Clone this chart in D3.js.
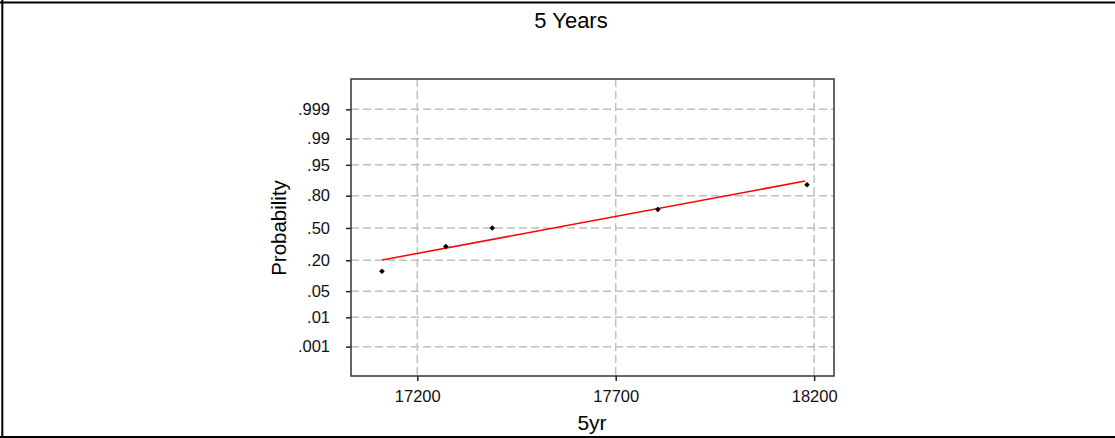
<!DOCTYPE html>
<html>
<head>
<meta charset="utf-8">
<title>5 Years</title>
<script src="https://d3js.org/d3.v7.min.js"></script>
<style>
  body { margin: 0; background: #fff; }
  svg { display: block; font-family: "Liberation Sans", Arial, sans-serif; }
</style>
</head>
<body>
<div class="chart"></div>
<script>
  // data
  const xValues = [17111, 17272, 17389, 17806, 18182];
  const pValues = [0.13, 0.315, 0.50, 0.685, 0.87];
  const fitX = [17111, 18177];
  const fitP = [0.202, 0.889];
  const xTicks = [17200, 17700, 18200];
  const pTicks = [0.999, 0.99, 0.95, 0.80, 0.50, 0.20, 0.05, 0.01, 0.001];
  const pTickLabels = ['.999', '.99', '.95', '.80', '.50', '.20', '.05', '.01', '.001'];

  // inverse normal cdf (Acklam)
  function probit(p) {
    const a = [-39.69683028665376, 220.9460984245205, -275.9285104469687, 138.3577518672690, -30.66479806614716, 2.506628277459239];
    const b = [-54.47609879822406, 161.5858368580409, -155.6989798598866, 66.80131188771972, -13.28068155288572];
    const c = [-0.007784894002430293, -0.3223964580411365, -2.400758277161838, -2.549732539343734, 4.374664141464968, 2.938163982698783];
    const d = [0.007784695709041462, 0.3224671290700398, 2.445134137142996, 3.754408661907416];
    const pl = 0.02425;
    let q, r;
    if (p < pl) {
      q = Math.sqrt(-2 * Math.log(p));
      return (((((c[0]*q+c[1])*q+c[2])*q+c[3])*q+c[4])*q+c[5]) / ((((d[0]*q+d[1])*q+d[2])*q+d[3])*q+1);
    }
    if (p > 1 - pl) {
      q = Math.sqrt(-2 * Math.log(1 - p));
      return -(((((c[0]*q+c[1])*q+c[2])*q+c[3])*q+c[4])*q+c[5]) / ((((d[0]*q+d[1])*q+d[2])*q+d[3])*q+1);
    }
    q = p - 0.5; r = q * q;
    return (((((a[0]*r+a[1])*r+a[2])*r+a[3])*r+a[4])*r+a[5])*q / (((((b[0]*r+b[1])*r+b[2])*r+b[3])*r+b[4])*r+1);
  }

  const W = 1115, H = 438;
  const pLeft = 351, pRight = 834, pTop = 79, pBottom = 376;

  const svg = d3.select('.chart')
    .append('svg')
    .attr('width', W)
    .attr('height', H);

  const x = d3.scaleLinear().domain([17033, 18250]).range([pLeft, pRight]);
  const y = d3.scaleLinear().domain([-3.855, 3.88]).range([pBottom, pTop]);

  // outer border (top, left, bottom)
  svg.append('path')
    .attr('d', 'M0,2.5H' + W + 'M2.3,0V437M0,437H' + W)
    .attr('stroke', '#000')
    .attr('stroke-width', 2)
    .attr('fill', 'none');

  // grid
  svg.selectAll('.vgrid')
    .data(xTicks)
    .enter()
    .append('line')
    .attr('x1', d => x(d)).attr('x2', d => x(d))
    .attr('y1', pTop).attr('y2', pBottom)
    .attr('stroke', '#c0c0c0')
    .attr('stroke-width', 1.5)
    .attr('stroke-dasharray', '8,4');

  svg.selectAll('.hgrid')
    .data(pTicks)
    .enter()
    .append('line')
    .attr('x1', pLeft).attr('x2', pRight)
    .attr('y1', d => y(probit(d))).attr('y2', d => y(probit(d)))
    .attr('stroke', '#c0c0c0')
    .attr('stroke-width', 1.5)
    .attr('stroke-dasharray', '8,4');

  // axes
  const xAxis = svg.append('g')
    .attr('transform', 'translate(0,' + pBottom + ')')
    .call(d3.axisBottom(x).tickValues(xTicks).tickSize(5).tickPadding(9).tickFormat(d3.format('d')));

  const yAxis = svg.append('g')
    .attr('transform', 'translate(' + pLeft + ',0)')
    .call(d3.axisLeft(y).tickValues(pTicks.map(probit)).tickSize(5).tickPadding(16)
      .tickFormat((d, i) => pTickLabels[i]));

  [xAxis, yAxis].forEach(function(g) {
    g.select('.domain').remove();
    g.selectAll('line').attr('stroke', '#222').attr('stroke-width', 1.5);
    g.selectAll('text').attr('fill', '#111').style('font-size', '16.5px').style('font-family', '"Liberation Sans", Arial, sans-serif');
  });

  // frame
  svg.append('rect')
    .attr('x', pLeft).attr('y', pTop)
    .attr('width', pRight - pLeft).attr('height', pBottom - pTop)
    .attr('fill', 'none')
    .attr('stroke', '#333')
    .attr('stroke-width', 1.5);

  // fitted line
  const line = d3.line()
    .x(d => x(d[0]))
    .y(d => y(probit(d[1])));

  svg.append('path')
    .datum(d3.zip(fitX, fitP))
    .attr('d', line)
    .attr('fill', 'none')
    .attr('stroke', '#ff0000')
    .attr('stroke-width', 1.5);

  // points
  svg.selectAll('.pt')
    .data(d3.zip(xValues, pValues))
    .enter()
    .append('path')
    .attr('d', d3.symbol().type(d3.symbolSquare).size(16))
    .attr('transform', d => 'translate(' + x(d[0]) + ',' + y(probit(d[1])) + ') rotate(45)')
    .attr('fill', '#000');

  // titles
  svg.append('text')
    .attr('x', 571).attr('y', 28)
    .attr('text-anchor', 'middle')
    .style('font-size', '22px')
    .text('5 Years');

  svg.append('text')
    .attr('x', 592).attr('y', 430)
    .attr('text-anchor', 'middle')
    .style('font-size', '21px')
    .text('5yr');

  svg.append('text')
    .attr('transform', 'translate(286,228) rotate(-90)')
    .attr('text-anchor', 'middle')
    .style('font-size', '20.5px')
    .text('Probability');
</script>
</body>
</html>
